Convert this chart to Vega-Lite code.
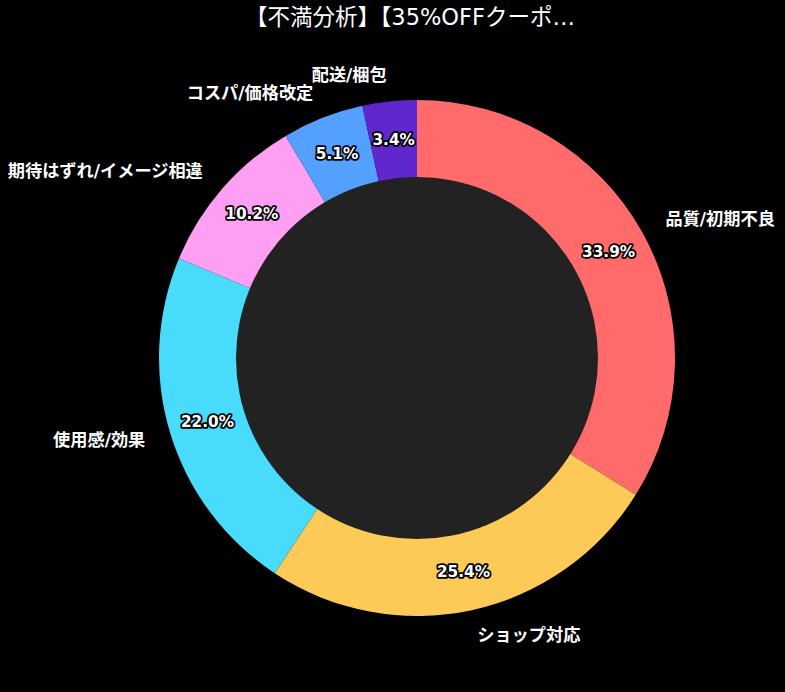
{
  "$schema": "https://vega.github.io/schema/vega-lite/v6.json",
  "background": "#000000",
  "autosize": "none",
  "padding": {"left": 49, "top": 48, "right": 0, "bottom": 24},
  "width": 736,
  "height": 620,
  "title": {
    "text": "【不満分析】【35%OFFクーポ…",
    "color": "#ffffff",
    "font": "DejaVu Sans, Noto Sans CJK JP",
    "fontSize": 22.5,
    "fontWeight": "normal",
    "anchor": "middle",
    "baseline": "bottom",
    "offset": -4,
    "dx": -7
  },
  "data": {
    "values": [
      {"category": "品質/初期不良", "pct": 0.339},
      {"category": "ショップ対応", "pct": 0.254},
      {"category": "使用感/効果", "pct": 0.220},
      {"category": "期待はずれ/イメージ相違", "pct": 0.102},
      {"category": "コスパ/価格改定", "pct": 0.051},
      {"category": "配送/梱包", "pct": 0.034}
    ]
  },
  "encoding": {
    "theta": {"field": "pct", "type": "quantitative", "stack": true},
    "order": {"field": "pct", "type": "quantitative", "sort": "descending"}
  },
  "layer": [
    {
      "mark": {"type": "arc", "innerRadius": 180, "outerRadius": 258},
      "encoding": {
        "color": {
          "field": "category",
          "type": "nominal",
          "scale": {
            "domain": ["品質/初期不良", "ショップ対応", "使用感/効果", "期待はずれ/イメージ相違", "コスパ/価格改定", "配送/梱包"],
            "range": ["#FF6B6B", "#FECA57", "#48DBFB", "#FF9FF3", "#54A0FF", "#5F27CD"]
          },
          "legend": null
        }
      }
    },
    {
      "data": {"values": [{"c": 1}]},
      "mark": {"type": "arc", "outerRadius": 181, "theta": 0, "theta2": 6.2832, "fill": "#222222"},
      "encoding": {"theta": null, "order": null}
    },
    {
      "mark": {"type": "text", "radius": 219, "font": "DejaVu Sans", "fontWeight": "bold", "fontSize": 15.3, "fill": "#ffffff", "stroke": "#000000", "strokeWidth": 3.5, "strokeJoin": "round", "baseline": "middle", "align": "center"},
      "encoding": {"text": {"field": "pct", "type": "quantitative", "format": ".1%"}}
    },
    {
      "mark": {"type": "text", "radius": 219, "font": "DejaVu Sans", "fontWeight": "bold", "fontSize": 15.3, "fill": "#ffffff", "baseline": "middle", "align": "center"},
      "encoding": {"text": {"field": "pct", "type": "quantitative", "format": ".1%"}}
    },
    {
      "mark": {"type": "text", "radius": 284, "font": "DejaVu Sans, Noto Sans CJK JP", "fontWeight": "bold", "fontSize": 17.2, "fill": "#ffffff", "baseline": "middle", "align": "left"},
      "encoding": {
        "text": {"field": "category", "type": "nominal"},
        "opacity": {"condition": {"test": "indexof(['品質/初期不良','ショップ対応'], datum.category) >= 0", "value": 1}, "value": 0}
      }
    },
    {
      "mark": {"type": "text", "radius": 284, "font": "DejaVu Sans, Noto Sans CJK JP", "fontWeight": "bold", "fontSize": 17.2, "fill": "#ffffff", "baseline": "middle", "align": "right"},
      "encoding": {
        "text": {"field": "category", "type": "nominal"},
        "opacity": {"condition": {"test": "indexof(['品質/初期不良','ショップ対応'], datum.category) >= 0", "value": 0}, "value": 1}
      }
    }
  ]
}
